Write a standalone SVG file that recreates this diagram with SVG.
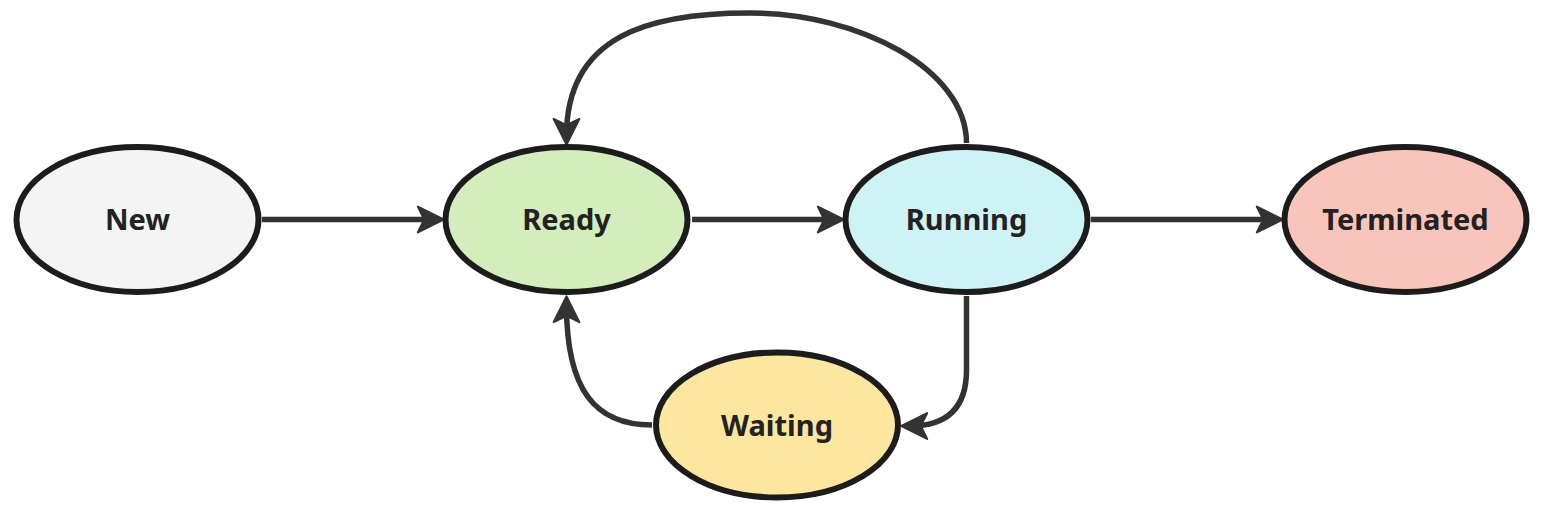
<svg xmlns="http://www.w3.org/2000/svg" width="1554" height="513" viewBox="0 0 1554 513">
<style>
.node{stroke:#1c1c1c;stroke-width:6}
.lbl{font-family:"Noto Sans","Open Sans",sans-serif;font-weight:bold;font-size:29px;fill:#222;text-anchor:middle}
.edge{fill:none;stroke:#333;stroke-width:5.5}
</style>
<defs>
<marker id="arr" markerUnits="userSpaceOnUse" markerWidth="30" markerHeight="30" viewBox="0 0 26 28" refX="17" refY="14" orient="auto">
<path d="M1,2 L25,14 L1,26 L7,14 Z" fill="#333" stroke="#333" stroke-width="2" stroke-linejoin="round"/>
</marker>
</defs>
<rect width="1554" height="513" fill="#fff"/>
<g id="connectors">
<path class="edge" marker-end="url(#arr)" d="M262,219.5 H435"/>
<path class="edge" marker-end="url(#arr)" d="M692,219.5 H835"/>
<path class="edge" marker-end="url(#arr)" d="M1091,219.5 H1274"/>
<path class="edge" marker-end="url(#arr)" d="M966.5,143 C966.5,70 860,13 750,13 C650,13 566.5,35 566.5,136"/>
<path class="edge" marker-end="url(#arr)" d="M966.5,296 V370 C966.5,410 945,426 910,426"/>
<path class="edge" marker-end="url(#arr)" d="M652,425 C595,425 566.5,390 566.5,305"/>
</g>
<g id="new">
<ellipse class="node" cx="137.5" cy="219.5" rx="121" ry="72.5" fill="#f4f4f4"/>
<text class="lbl" x="137.5" y="230">New</text>
</g>
<g id="ready">
<ellipse class="node" cx="566.5" cy="219.5" rx="121" ry="72.5" fill="#d3eebc"/>
<text class="lbl" x="566.5" y="230">Ready</text>
</g>
<g id="running">
<ellipse class="node" cx="966.5" cy="219.5" rx="121" ry="72.5" fill="#cdf3f5"/>
<text class="lbl" x="966.5" y="230">Running</text>
</g>
<g id="terminated">
<ellipse class="node" cx="1405.5" cy="219.5" rx="121" ry="72.5" fill="#f9c5bb"/>
<text class="lbl" x="1405.5" y="230">Terminated</text>
</g>
<g id="waiting">
<ellipse class="node" cx="777" cy="425" rx="121" ry="72.5" fill="#fde79e"/>
<text class="lbl" x="777" y="436">Waiting</text>
</g>
</svg>
